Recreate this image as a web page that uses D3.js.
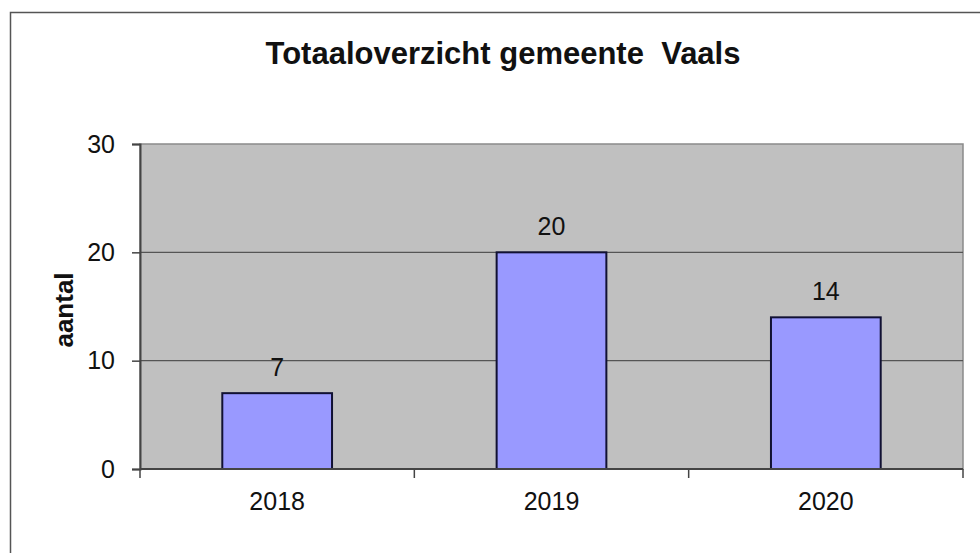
<!DOCTYPE html>
<html>
<head>
<meta charset="utf-8">
<script src="https://cdn.jsdelivr.net/npm/d3@7"></script>
<style>
  html, body { margin: 0; padding: 0; background: #fff; }
  svg { display: block; font-family: Arial, "Liberation Sans", sans-serif; }
</style>
</head>
<body>
<svg id="chart" width="980" height="553"></svg>
<script>
// chart values
const years  = ['2018', '2019', '2020'];
const counts = [7, 20, 14];
const yTicks = [0, 10, 20, 30];
const title  = 'Totaaloverzicht gemeente\u00a0 Vaals';
const yLabel = 'aantal';

const W = 980, H = 553;
const M = { t: 144, r: 17, b: 84, l: 140 };   // plot box 140..963 x 144..469
const iw = W - M.l - M.r, ih = H - M.t - M.b;
const FONT = 'Arial, "Liberation Sans", sans-serif';

const svg = d3.select('#chart');

// outer frame (only top/left visible in the crop)
svg.append('rect')
  .attr('x', 10.5).attr('y', 12.5)
  .attr('width', W + 20).attr('height', H + 20)
  .attr('fill', 'none').attr('stroke', '#555').attr('stroke-width', 1.5);

svg.append('text')
  .attr('x', 503).attr('y', 64)
  .attr('text-anchor', 'middle')
  .attr('font-size', 31).attr('font-weight', 'bold')
  .attr('fill', '#111')
  .text(title);

const g = svg.append('g').attr('transform', `translate(${M.l},${M.t})`);

const x = d3.scaleBand().domain(years).range([0, iw])
  .paddingInner(0.6).paddingOuter(0.3);
const y = d3.scaleLinear().domain([0, 30]).range([ih, 0]);

// plot area
g.append('rect')
  .attr('width', iw).attr('height', ih)
  .attr('fill', '#c0c0c0').attr('stroke', '#8a8a8a').attr('stroke-width', 1.5);

// gridlines
g.append('g').selectAll('line')
  .data(yTicks.filter(d => d > 0 && d < 30))
  .join('line')
    .attr('x1', 0).attr('x2', iw)
    .attr('y1', d => y(d)).attr('y2', d => y(d))
    .attr('stroke', '#555').attr('stroke-width', 1.2);

// bars
g.append('g').selectAll('rect')
  .data(counts)
  .join('rect')
    .attr('x', (d, i) => x(years[i]))
    .attr('y', d => y(d))
    .attr('width', x.bandwidth())
    .attr('height', d => y(0) - y(d))
    .attr('fill', '#9999ff')
    .attr('stroke', '#111133').attr('stroke-width', 2);

// value labels
g.append('g').selectAll('text')
  .data(counts)
  .join('text')
    .attr('x', (d, i) => x(years[i]) + x.bandwidth() / 2)
    .attr('y', d => y(d) - 17)
    .attr('text-anchor', 'middle')
    .attr('font-size', 25).attr('fill', '#111')
    .text(d => d);

// y axis
const yAxis = d3.axisLeft(y).tickValues(yTicks).tickSize(8).tickPadding(17);
const ya = g.append('g').call(yAxis);
ya.select('.domain').attr('stroke', '#444').attr('stroke-width', 2);
ya.selectAll('.tick line').attr('stroke', '#444').attr('stroke-width', 1.5);
ya.selectAll('.tick text').attr('font-size', 25).attr('fill', '#111')
  .attr('font-family', FONT);

// x axis: ticks on category boundaries, labels centred
const xa = g.append('g').attr('transform', `translate(0,${ih})`);
xa.append('line').attr('x1', 0).attr('x2', iw)
  .attr('stroke', '#444').attr('stroke-width', 2);
const bounds = d3.range(years.length + 1).map(i => i * x.step());
xa.selectAll('line.tk').data(bounds).join('line').attr('class', 'tk')
  .attr('x1', d => d).attr('x2', d => d).attr('y1', 0).attr('y2', 9)
  .attr('stroke', '#444').attr('stroke-width', 1.5);
xa.selectAll('text').data(years).join('text')
  .attr('x', d => x(d) + x.bandwidth() / 2)
  .attr('y', 41)
  .attr('text-anchor', 'middle')
  .attr('font-size', 25).attr('fill', '#111')
  .text(d => d);

// y axis title
svg.append('text')
  .attr('transform', 'translate(73,310) rotate(-90)')
  .attr('text-anchor', 'middle')
  .attr('font-size', 26).attr('font-weight', 'bold').attr('fill', '#111')
  .text(yLabel);
</script>
</body>
</html>
